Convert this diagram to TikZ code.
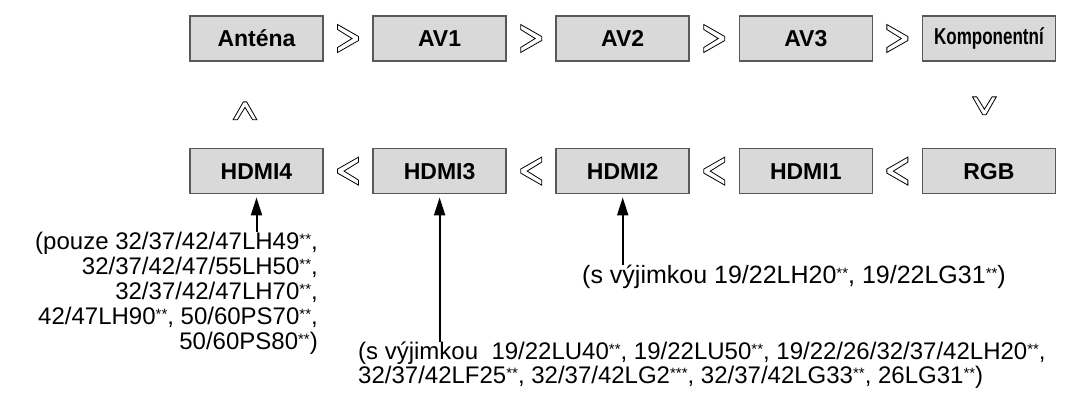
\documentclass[tikz,border=0pt]{standalone}
\usepackage{fontspec}
\setmainfont{Liberation Sans}
\usetikzlibrary{arrows.meta, positioning, calc}

\newcommand{\stars}[1][**]{\raisebox{0.4ex}{\fontsize{15}{15}\selectfont #1}}

\tikzset{
    box/.style={draw=black!65, fill=black!15, line width=1.6pt,
        minimum width=133pt, minimum height=45pt, inner sep=0pt,
        font=\fontsize{23}{26}\selectfont\bfseries},
    note/.style={inner sep=0pt, font=\fontsize{24}{25}\selectfont},
    pointer/.style={line width=2pt, shorten >=3pt,
        -{Triangle[width=11pt,length=18pt]}},
    chev/.pic={
        \draw[line width=0.8pt, fill=white]
            (-10.5,-14) -- (10.5,-2) -- (10.5,2) -- (-10.5,14)
            -- (-10.5,9) -- (4,0) -- (-10.5,-9) -- cycle;
    }
}

\begin{document}
\begin{tikzpicture}[
            x=1pt,
            y=-1pt,
            >=Triangle
            ]
            \useasboundingbox (0,0) rectangle (1072,392);

            % horni rada
            \node[box] (ant) at (256.5,38.5) {Anténa};
            \node[box, right=48.5pt of ant] (av1) {AV1};
            \node[box, right=48.5pt of av1] (av2) {AV2};
            \node[box, right=48.5pt of av2] (av3) {AV3};
            \node[box, right=48.5pt of av3] (komp) {\scalebox{0.74}[1]{Komponentní}};

            % dolni rada
            \node[box, below=86pt of komp] (rgb) {RGB};
            \node[box, left=48.5pt of rgb] (hdmi1) {HDMI1};
            \node[box, left=48.5pt of hdmi1] (hdmi2) {HDMI2};
            \node[box, left=48.5pt of hdmi2] (hdmi3) {HDMI3};
            \node[box, left=48.5pt of hdmi3] (hdmi4) {HDMI4};

            % sipky mezi boxy
            \pic at ($(ant.east)!0.5!(av1.west)$) {chev};
            \pic at ($(av1.east)!0.5!(av2.west)$) {chev};
            \pic at ($(av2.east)!0.5!(av3.west)$) {chev};
            \pic at ($(av3.east)!0.5!(komp.west)$) {chev};
            \pic[rotate=-90, scale=0.85] at ($(komp.south)!0.5!(rgb.north)+(-4.5,1)$) {chev};
            \pic[rotate=180] at ($(rgb.west)!0.5!(hdmi1.east)$) {chev};
            \pic[rotate=180] at ($(hdmi1.west)!0.5!(hdmi2.east)$) {chev};
            \pic[rotate=180] at ($(hdmi2.west)!0.5!(hdmi3.east)$) {chev};
            \pic[rotate=180] at ($(hdmi3.west)!0.5!(hdmi4.east)$) {chev};
            \pic[rotate=90, scale=0.85] at ($(hdmi4.north)!0.5!(ant.south)+(-11.5,6)$) {chev};

            % poznamky
            \node[note, align=right, anchor=north east] (n4) at (318,232)
                {(pouze 32/37/42/47LH49\stars,\\
                 32/37/42/47/55LH50\stars,\\
                 32/37/42/47LH70\stars,\\
                 42/47LH90\stars, 50/60PS70\stars,\\
                 50/60PS80\stars)};
            \node[note, align=left, anchor=north west,
                  font=\fontsize{24}{22}\selectfont] (n3) at (358,342)
                {(s výjimkou\ \ 19/22LU40\stars, 19/22LU50\stars, 19/22/26/32/37/42LH20\stars,\\
                 32/37/42LF25\stars, 32/37/42LG2\stars[***], 32/37/42LG33\stars, 26LG31\stars)};
            \node[note, anchor=west, font=\fontsize{25}{25}\selectfont] (n2) at (582,277)
                {(s výjimkou 19/22LH20\stars, 19/22LG31\stars)};

            \draw[pointer] (n4.north -| hdmi4.south) -- (hdmi4.south);
            \draw[pointer] (n3.north -| hdmi3.south) -- (hdmi3.south);
            \draw[pointer] (n2.north -| hdmi2.south) -- (hdmi2.south);
        \end{tikzpicture}
\end{document}
